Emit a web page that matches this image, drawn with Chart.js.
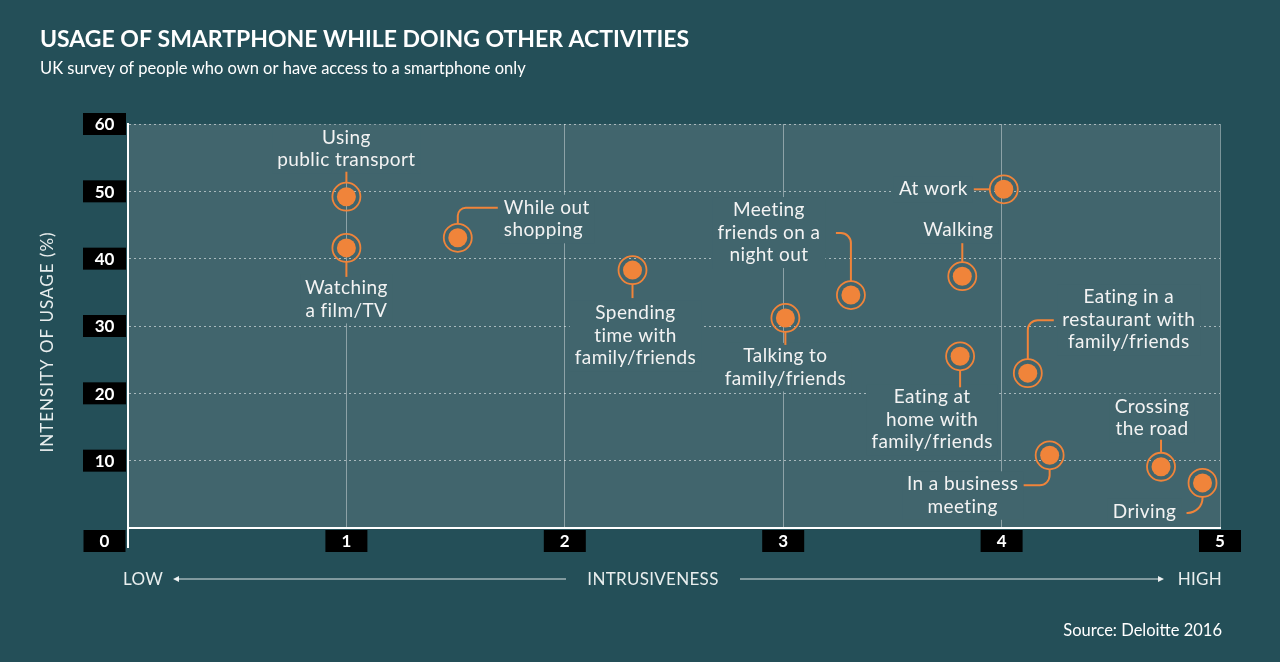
<!DOCTYPE html>
<html>
<head>
<meta charset="utf-8">
<title>Usage of smartphone while doing other activities</title>
<script src="https://cdn.jsdelivr.net/npm/chart.js@4/dist/chart.umd.min.js"></script>
<style>
  html, body { margin: 0; padding: 0; background: #244f58; }
  canvas { display: block; }
</style>
</head>
<body>
<canvas id="chart" width="1280" height="662"></canvas>
<script>
// data
var activities = [
  ['Using', 'public transport'],
  ['Watching', 'a film/TV'],
  ['While out', 'shopping'],
  ['Spending', 'time with', 'family/friends'],
  ['Talking to', 'family/friends'],
  ['Meeting', 'friends on a', 'night out'],
  ['At work'],
  ['Walking'],
  ['Eating at', 'home with', 'family/friends'],
  ['Eating in a', 'restaurant with', 'family/friends'],
  ['In a business', 'meeting'],
  ['Crossing', 'the road'],
  ['Driving']
];
var intrusiveness = [1.0, 1.0, 1.51, 2.31, 3.01, 3.31, 4.01, 3.82, 3.81, 4.12, 4.22, 4.73, 4.92];
var usage = [49.2, 41.6, 43.1, 38.3, 31.2, 34.6, 50.3, 37.4, 25.5, 23.0, 10.8, 9.1, 6.7];
var xTicks = [0, 1, 2, 3, 4, 5];
var yTicks = [10, 20, 30, 40, 50, 60];

var BG = '#244f58';
var PLOT_BG = '#41656d';
var ORANGE = '#f0843a';
var FONT = 'Lato, "Open Sans", sans-serif';

// where each label sits relative to its point (px), plus its leader line
var labelLayout = [
  { dx: 0, dy: -59, align: 'center', leader: [[0, -14], [0, -25]] },
  { dx: 0, dy: 40, align: 'center', leader: [[0, 14], [0, 29]] },
  { dx: 46, dy: -30, align: 'left', leader: [[0, -14], [0, -30], [40, -30]], r: 8 },
  { dx: 3, dy: 43, align: 'center', leader: [[0, 14], [0, 28]] },
  { dx: 0, dy: 38, align: 'center', leader: [[0, 14], [0, 27]] },
  { dx: -82, dy: -85, align: 'center', leader: [[0, -14], [0, -62], [-15, -62]], r: 10 },
  { dx: -36, dy: 0, align: 'right', leader: [[-14, 0], [-30, 0]] },
  { dx: -4, dy: -46, align: 'center', leader: [[0, -14], [0, -33]] },
  { dx: -28, dy: 41, align: 'center', leader: [[0, 14], [0, 31]] },
  { dx: 101, dy: -76, align: 'center', leader: [[0, -14], [0, -53], [26, -53]], r: 10 },
  { dx: -87, dy: 29, align: 'center', leader: [[0, 14], [0, 30], [-26, 30]], r: 10 },
  { dx: -9, dy: -60, align: 'center', leader: [[0, -14], [0, -27]] },
  { dx: -58, dy: 29, align: 'center', leader: [[0, 14], [0, 30], [-16, 30]], r: 15 }
];
var LINE_H = 22.5;

var points = intrusiveness.map(function (x, i) { return { x: x, y: usage[i] }; });

var decor = {
  id: 'decor',
  beforeDraw: function (chart) {
    var c = chart.ctx, a = chart.chartArea;
    c.save();
    c.fillStyle = BG;
    c.fillRect(0, 0, chart.width, chart.height);
    c.fillStyle = PLOT_BG;
    c.fillRect(a.left, a.top, a.right - a.left, a.bottom - a.top);
    c.restore();
  },
  beforeDatasetsDraw: function (chart) {
    var c = chart.ctx;
    var meta = chart.getDatasetMeta(0);
    c.save();
    c.font = '19px ' + FONT;
    c.letterSpacing = '0.4px';
    c.textBaseline = 'middle';
    // backgrounds first so grid lines get cut behind the labels
    var blocks = activities.map(function (lines, i) {
      var p = meta.data[i], L = labelLayout[i];
      var ax = p.x + L.dx, ay = p.y + L.dy;
      var w = Math.max.apply(null, lines.map(function (t) { return c.measureText(t).width; }));
      var left = L.align === 'left' ? ax : L.align === 'right' ? ax - w : ax - w / 2;
      return { p: p, L: L, lines: lines, ax: ax, ay: ay, left: left, w: w };
    });
    c.fillStyle = PLOT_BG;
    blocks.forEach(function (b) {
      c.fillRect(b.left - 5, b.ay - 13, b.w + 10, (b.lines.length - 1) * LINE_H + 26);
    });
    // leader lines
    c.strokeStyle = ORANGE;
    c.lineWidth = 2;
    blocks.forEach(function (b) {
      var pts = b.L.leader;
      c.beginPath();
      c.moveTo(b.p.x + pts[0][0], b.p.y + pts[0][1]);
      for (var k = 1; k < pts.length - 1; k++) {
        c.arcTo(b.p.x + pts[k][0], b.p.y + pts[k][1], b.p.x + pts[k + 1][0], b.p.y + pts[k + 1][1], b.L.r || 10);
      }
      var last = pts[pts.length - 1];
      c.lineTo(b.p.x + last[0], b.p.y + last[1]);
      c.stroke();
    });
    // text
    c.fillStyle = '#f3f3f3';
    blocks.forEach(function (b) {
      c.textAlign = b.L.align;
      b.lines.forEach(function (t, k) { c.fillText(t, b.ax, b.ay + k * LINE_H); });
    });
    c.restore();
  },
  afterDraw: function (chart) {
    var c = chart.ctx, a = chart.chartArea;
    var xs = chart.scales.x, ys = chart.scales.y;
    c.save();

    // left axis runs down past the bottom line
    c.strokeStyle = '#ffffff';
    c.lineWidth = 2;
    c.beginPath();
    c.moveTo(a.left, a.bottom);
    c.lineTo(a.left, a.bottom + 20);
    c.stroke();

    // black tick boxes
    c.font = 'bold 17px ' + FONT;
    c.textAlign = 'center';
    c.textBaseline = 'middle';
    yTicks.forEach(function (v) {
      var py = ys.getPixelForValue(v);
      c.fillStyle = '#000';
      c.fillRect(83, py - 11, 43, 22);
      c.fillStyle = '#fff';
      c.fillText(String(v), 104.5, py + 1);
    });
    xTicks.forEach(function (v) {
      var px = v === 0 ? 104.5 : xs.getPixelForValue(v);
      c.fillStyle = '#000';
      c.fillRect(px - 21, a.bottom + 2, 42, 22);
      c.fillStyle = '#fff';
      c.fillText(String(v), px, a.bottom + 14);
    });

    // titles
    c.textAlign = 'left';
    c.fillStyle = '#ffffff';
    c.font = 'bold 23px ' + FONT;
    c.fillText('USAGE OF SMARTPHONE WHILE DOING OTHER ACTIVITIES', 40, 40);
    c.font = '16.5px ' + FONT;
    c.fillText('UK survey of people who own or have access to a smartphone only', 40, 69);

    // y axis title
    c.save();
    c.translate(48, 342);
    c.rotate(-Math.PI / 2);
    c.textAlign = 'center';
    c.font = '17px ' + FONT;
    c.letterSpacing = '1px';
    c.fillStyle = '#e9eeee';
    c.fillText('INTENSITY OF USAGE (%)', 0, 0);
    c.restore();

    // intrusiveness scale under the axis
    var ty = 580;
    c.font = '17px ' + FONT;
    c.letterSpacing = '0.3px';
    c.fillStyle = '#e9eeee';
    c.textAlign = 'left';
    c.fillText('LOW', 123, ty);
    c.textAlign = 'center';
    c.fillText('INTRUSIVENESS', 653, ty);
    c.textAlign = 'right';
    c.fillText('HIGH', 1222, ty);
    c.letterSpacing = '0px';
    c.strokeStyle = 'rgba(255,255,255,0.85)';
    c.lineWidth = 1;
    c.beginPath();
    c.moveTo(176, ty - 1); c.lineTo(566, ty - 1);
    c.moveTo(740, ty - 1); c.lineTo(1161, ty - 1);
    c.stroke();
    c.fillStyle = 'rgba(255,255,255,0.9)';
    c.beginPath();
    c.moveTo(173, ty - 1); c.lineTo(179, ty - 4); c.lineTo(179, ty + 2); c.closePath();
    c.moveTo(1164, ty - 1); c.lineTo(1158, ty - 4); c.lineTo(1158, ty + 2); c.closePath();
    c.fill();

    c.fillStyle = '#ffffff';
    c.textAlign = 'right';
    c.font = '16.5px ' + FONT;
    c.fillText('Source: Deloitte 2016', 1222, 631);
    c.restore();
  }
};

new Chart(document.getElementById('chart').getContext('2d'), {
  type: 'scatter',
  data: {
    datasets: [
      { data: points, pointRadius: 9.5, pointHoverRadius: 9.5, backgroundColor: ORANGE, borderWidth: 0 },
      { data: points, pointRadius: 14, pointHoverRadius: 14, backgroundColor: 'rgba(0,0,0,0)',
        borderColor: ORANGE, borderWidth: 1.8 }
    ]
  },
  options: {
    responsive: false,
    animation: false,
    events: [],
    layout: { padding: { left: 128, right: 60, top: 124, bottom: 134 } },
    plugins: { legend: { display: false }, tooltip: { enabled: false } },
    scales: {
      x: {
        type: 'linear', min: 0, max: 5,
        ticks: { display: false, stepSize: 1 },
        grid: { color: 'rgba(255,255,255,0.4)', lineWidth: 1, drawTicks: false },
        border: { color: '#ffffff', width: 2 },
        afterFit: function (s) { s.height = 0; }
      },
      y: {
        min: 0, max: 60,
        ticks: { display: false, stepSize: 10 },
        grid: { color: 'rgba(255,255,255,0.55)', lineWidth: 1, drawTicks: false },
        border: { color: '#ffffff', width: 2, dash: [2, 3] },
        afterFit: function (s) { s.width = 0; }
      }
    }
  },
  plugins: [decor]
});
</script>
</body>
</html>
